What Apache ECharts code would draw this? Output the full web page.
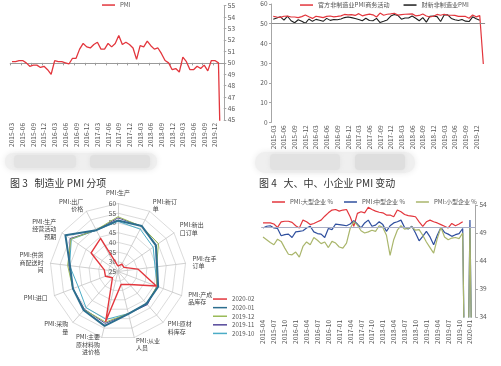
<!DOCTYPE html>
<html><head><meta charset="utf-8">
<script src="https://cdn.jsdelivr.net/npm/echarts@6/dist/echarts.min.js"></script>
<style>html,body{margin:0;padding:0;background:#fff}#c{width:501px;height:366px}</style>
</head><body><div id="c"></div><script>
// ---- Panel 1: manufacturing PMI ----
const months1 = ['2015-03','2015-04','2015-05','2015-06','2015-07','2015-08','2015-09','2015-10','2015-11','2015-12',
 '2016-01','2016-02','2016-03','2016-04','2016-05','2016-06','2016-07','2016-08','2016-09','2016-10','2016-11','2016-12',
 '2017-01','2017-02','2017-03','2017-04','2017-05','2017-06','2017-07','2017-08','2017-09','2017-10','2017-11','2017-12',
 '2018-01','2018-02','2018-03','2018-04','2018-05','2018-06','2018-07','2018-08','2018-09','2018-10','2018-11','2018-12',
 '2019-01','2019-02','2019-03','2019-04','2019-05','2019-06','2019-07','2019-08','2019-09','2019-10','2019-11','2019-12',
 '2020-01','2020-02'];
const pmi = [50.1,50.1,50.2,50.2,50.0,49.7,49.8,49.8,49.6,49.7,
 49.4,49.0,50.2,50.1,50.1,50.0,49.9,50.4,50.4,51.2,51.7,51.4,
 51.3,51.6,51.8,51.2,51.2,51.7,51.4,51.7,52.4,51.6,51.8,51.6,
 51.3,50.3,51.5,51.4,51.9,51.5,51.2,51.3,50.8,50.2,50.0,49.4,
 49.5,49.2,50.5,50.1,49.4,49.4,49.7,49.5,49.8,49.3,50.2,50.2,
 50.0,35.7];
// ---- Panel 2: non-manufacturing PMI ----
const nonMfg = [53.7,53.4,53.2,53.8,53.9,53.4,53.4,53.1,53.6,54.4,
 53.5,52.7,53.8,53.5,53.1,53.7,53.9,53.5,53.7,54.0,54.7,54.5,
 54.6,54.2,55.1,54.0,54.5,54.9,54.5,53.4,55.4,54.3,54.8,55.0,
 55.3,54.4,54.6,54.8,54.9,55.0,54.0,54.2,54.9,53.9,53.4,53.8,
 54.7,54.3,54.8,54.3,54.3,54.2,53.7,53.8,53.7,52.8,54.4,53.5,
 54.1,29.6];
const caixin = [52.3,52.9,53.5,51.8,53.8,51.5,50.5,52.0,51.2,50.2,
 52.4,51.2,52.2,51.8,51.2,52.7,51.7,52.1,52.0,52.4,53.1,53.4,
 53.1,52.6,52.1,51.5,52.8,51.6,51.5,52.7,50.6,51.2,51.9,53.9,
 54.7,54.2,52.3,52.9,52.9,53.9,52.8,51.5,53.1,50.8,53.8,53.9,
 53.6,51.1,54.4,54.5,52.7,52.0,51.6,52.1,51.3,51.1,53.5,52.5,
 51.8,null];
// ---- Panel 3: PMI sub-indices (clockwise from top) ----
const radarNames = ['PMI:生产','PMI:新订\n单','PMI:新出\n口订单','PMI:在手\n订单','PMI:产成\n品库存','PMI:原材\n料库存',
 'PMI:从业\n人员','PMI:主要\n原材料购\n进价格','PMI:采购\n量','PMI:进口','PMI:供货\n商配送时\n间','PMI:生产\n经营活动\n预期','PMI:出厂\n价格'];
const radarMonths = ['2020-02','2020-01','2019-12','2019-11','2019-10'];
const r2002 = [27.8,29.3,28.7,35.3,46.1,33.9,31.8,51.4,29.3,31.9,32.1,41.8,44.3];
const r2001 = [51.3,51.4,48.7,45.3,47.1,47.1,47.5,53.8,51.6,49.8,49.9,57.9,49.0];
const r1912 = [53.2,51.2,50.3,45.0,46.4,47.2,47.3,51.8,51.3,49.9,51.1,54.4,49.2];
const r1911 = [52.6,51.3,48.8,44.9,46.4,47.8,47.3,52.5,51.0,49.8,50.5,54.9,49.0];
const r1910 = [50.8,49.6,47.0,44.2,46.7,47.4,47.3,50.4,49.8,46.9,50.1,54.2,49.0];
// ---- Panel 4: large / medium / small enterprises ----
const months4 = ['2015-04','2015-05','2015-06','2015-07','2015-08','2015-09','2015-10','2015-11','2015-12',
 '2016-01','2016-02','2016-03','2016-04','2016-05','2016-06','2016-07','2016-08','2016-09','2016-10','2016-11','2016-12',
 '2017-01','2017-02','2017-03','2017-04','2017-05','2017-06','2017-07','2017-08','2017-09','2017-10','2017-11','2017-12',
 '2018-01','2018-02','2018-03','2018-04','2018-05','2018-06','2018-07','2018-08','2018-09','2018-10','2018-11','2018-12',
 '2019-01','2019-02','2019-03','2019-04','2019-05','2019-06','2019-07','2019-08','2019-09','2019-10','2019-11','2019-12',
 '2020-01','2020-02'];
const large = [50.8,50.8,50.8,50.6,50.0,51.0,51.1,51.1,50.9,50.3,49.9,51.3,51.0,50.5,50.7,51.0,51.3,52.0,52.6,53.1,
 53.2,52.9,53.1,53.2,51.9,50.2,52.5,52.8,52.6,53.6,53.2,52.9,52.7,52.6,52.2,52.2,51.9,53.1,52.8,52.3,
 52.1,52.0,51.9,51.0,50.2,51.0,51.3,51.0,50.8,50.5,50.2,49.9,50.7,50.3,50.6,51.0,null,null,null];
const medium = [49.9,50.2,50.3,49.9,49.8,48.5,48.7,48.8,48.2,49.2,49.3,49.4,49.9,50.2,49.2,48.9,48.8,48.2,49.8,49.6,
 50.6,50.5,50.4,50.3,50.6,51.2,50.6,49.9,50.8,51.3,50.2,50.4,51.0,50.5,49.3,50.3,50.8,51.0,51.3,50.0,
 49.7,50.2,49.0,47.6,48.4,49.3,48.3,46.9,48.6,50.0,49.1,48.8,48.4,48.7,48.9,49.8,0,51.3,0];
const small = [48.3,47.8,47.3,46.9,47.9,47.5,46.3,45.2,45.1,45.6,44.7,46.6,47.4,46.9,48.2,47.7,47.1,47.4,46.4,47.5,
 47.2,46.5,46.3,47.2,49.8,51.0,50.4,49.4,49.0,49.2,49.5,49.3,50.3,50.0,48.6,45.0,47.8,49.5,50.3,49.7,
 49.8,50.1,49.5,49.6,48.6,47.4,46.4,45.4,48.0,50.0,48.3,47.8,48.1,48.2,48.0,49.0,0,50.0,0];

const FF = '"Noto Sans CJK SC","Liberation Sans",sans-serif';
const txt = {fontSize:6.5, color:'#555', fontFamily:FF};
const legTxt = {fontSize:6.1, color:'#555', fontFamily:FF};
const axisGrey = '#a6a6a6';
const RED = '#e3363d';

const order = [0,12,11,10,9,8,7,6,5,4,3,2,1]; // ECharts places indicators counter-clockwise
const reorder = arr => order.map(i => arr[i]);
const radarColors = {'2020-02':RED,'2020-01':'#2c6e8f','2019-12':'#9bbb59','2019-11':'#54479a','2019-10':'#4bacc6'};
const radarVals = {'2020-02':r2002,'2020-01':r2001,'2019-12':r1912,'2019-11':r1911,'2019-10':r1910};

const xCat = (gi, data) => ({gridIndex:gi, type:'category', data:data, boundaryGap:true,
  axisLine:{show:false}, axisTick:{show:false}, splitLine:{show:false},
  axisLabel:Object.assign({interval:2, rotate:90, margin:3}, txt)});
const yVal = (gi, pos, min, max, itv) => ({gridIndex:gi, type:'value', position:pos, min:min, max:max, interval:itv,
  splitLine:{show:false}, axisLine:{show:true, lineStyle:{color:axisGrey}},
  axisTick:{show:true, length:2.5, lineStyle:{color:axisGrey}},
  axisLabel:Object.assign({margin:4}, txt)});
const ml50 = color => ({silent:true, symbol:'none', label:{show:false}, animation:false,
  lineStyle:{color:color, width:1, type:'solid'}, data:[{yAxis:50}]});

const chart = echarts.init(document.getElementById('c'), null, {renderer:'canvas'});
const radarSeries = radarMonths.slice().reverse().map(m => ({
  type:'radar', name:m, radarIndex:0, symbol:'none', z: m==='2020-02'?5:3,
  lineStyle:{width: m==='2020-01'?2:(m==='2020-02'?1.4:1), color:radarColors[m]},
  itemStyle:{color:radarColors[m]},
  data:[{name:m, value:reorder(radarVals[m])}]
}));

chart.setOption({
  animation:false,
  backgroundColor:'#fff',
  textStyle:{fontFamily:FF},
  title:[
    {text:'图 3   制造业 PMI 分项', left:10, top:178, padding:0, textStyle:{fontSize:10, fontWeight:'normal', color:'#333', fontFamily:FF}},
    {text:'图 4   大、中、小企业 PMI 变动', left:259, top:178, padding:0, textStyle:{fontSize:10, fontWeight:'normal', color:'#333', fontFamily:FF}}
  ],
  graphic:[
    {type:'rect', shape:{x:5, y:153, width:152, height:17, r:8}, style:{fill:'#efefef', shadowBlur:6, shadowColor:'#eaeaea'}, z:-1},
    {type:'rect', shape:{x:14, y:155, width:62, height:13, r:4}, style:{fill:'#e3e3e3', shadowBlur:5, shadowColor:'#e3e3e3'}, z:-1},
    {type:'rect', shape:{x:90, y:155, width:60, height:13, r:4}, style:{fill:'#e0e0e0', shadowBlur:5, shadowColor:'#e0e0e0'}, z:-1},
    {type:'rect', shape:{x:255, y:152, width:160, height:21, r:10}, style:{fill:'#efefef', shadowBlur:6, shadowColor:'#eaeaea'}, z:-1},
    {type:'rect', shape:{x:270, y:154, width:70, height:16, r:4}, style:{fill:'#e2e2e2', shadowBlur:5, shadowColor:'#e2e2e2'}, z:-1},
    {type:'rect', shape:{x:355, y:154, width:50, height:16, r:4}, style:{fill:'#dedede', shadowBlur:5, shadowColor:'#dedede'}, z:-1}
  ],
  legend:[
    {data:['PMI'], left:102, top:2, padding:0, icon:'rect', itemWidth:13, itemHeight:1.5, textStyle:legTxt},
    {data:['官方非制造业PMI商务活动','财新非制造业PMI'], left:300, top:2, padding:0, itemGap:14, icon:'rect', itemWidth:13, itemHeight:1.5, textStyle:legTxt},
    {data:radarMonths, orient:'vertical', left:213, top:296, padding:0, itemGap:2.5, icon:'rect', itemWidth:14, itemHeight:1.5, textStyle:legTxt},
    {data:['PMI:大型企业 %','PMI:中型企业 %','PMI:小型企业 %'], left:272, top:199, padding:0, itemGap:11, icon:'rect', itemWidth:13, itemHeight:1.5, textStyle:{fontSize:6, color:'#555', fontFamily:FF}}
  ],
  grid:[
    {left:10.2, top:5.7, width:213.6, height:114.3},
    {left:271.5, top:4, width:213.6, height:118.3},
    {left:261.2, top:205, width:214.2, height:112}
  ],
  xAxis:[
    xCat(0, months1),
    {gridIndex:0, type:'category', data:months1, boundaryGap:true, position:'top', offset:-57.15,
      axisLine:{show:true, lineStyle:{color:'#9a9a9a'}}, axisTick:{show:true, interval:2, inside:true, length:2.5, lineStyle:{color:'#9a9a9a'}},
      axisLabel:{show:false}, splitLine:{show:false}},
    xCat(1, months1),
    xCat(2, months4)
  ],
  yAxis:[
    yVal(0, 'right', 45, 55, 1),
    yVal(1, 'left', 0, 60, 10),
    yVal(2, 'right', 34, 54, 5)
  ],
  radar:{
    center:[118, 271.5], radius:68, startAngle:90, splitNumber:7, shape:'polygon',
    indicator: order.map(i => i===0 ? {name:radarNames[i], min:25, max:60, axisLabel:{show:true}} : {name:radarNames[i], min:25, max:60}),
    axisName:{color:'#444', fontSize:6, fontFamily:FF, lineHeight:7.5},
    nameGap:7,
    splitLine:{lineStyle:{color:'#d2d2d2', width:0.8}},
    splitArea:{show:false},
    axisLine:{lineStyle:{color:'#c4c4c4', width:0.8}},
    axisTick:{show:false},
    axisLabel:Object.assign({show:false, margin:2}, txt)
  },
  series:[
    {type:'line', name:'PMI', xAxisIndex:0, yAxisIndex:0, data:pmi, symbol:'none', clip:true, color:RED, lineStyle:{width:1.3, color:RED}},
    {type:'line', name:'官方非制造业PMI商务活动', xAxisIndex:2, yAxisIndex:1, data:nonMfg, symbol:'none', color:RED, lineStyle:{width:1.2, color:RED}, markLine:ml50('#8c8c8c'), z:3},
    {type:'line', name:'财新非制造业PMI', xAxisIndex:2, yAxisIndex:1, data:caixin, symbol:'none', color:'#1e1e1e', lineStyle:{width:1.1, color:'#1e1e1e'}, z:2},
    ...radarSeries,
    {type:'line', name:'PMI:大型企业 %', xAxisIndex:3, yAxisIndex:2, data:large, symbol:'none', clip:true, color:RED, lineStyle:{width:1.2, color:RED}, markLine:ml50('#a9aec4')},
    {type:'line', name:'PMI:中型企业 %', xAxisIndex:3, yAxisIndex:2, data:medium, symbol:'none', clip:true, color:'#2f4f9e', lineStyle:{width:1.2, color:'#2f4f9e'}},
    {type:'line', name:'PMI:小型企业 %', xAxisIndex:3, yAxisIndex:2, data:small, symbol:'none', clip:true, color:'#aab66c', lineStyle:{width:1.2, color:'#aab66c'}}
  ]
});
</script></body></html>
